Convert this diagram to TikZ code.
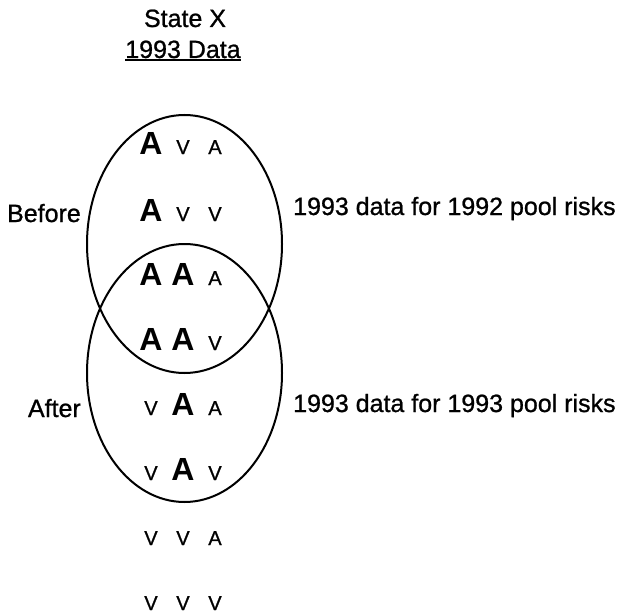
\documentclass[tikz,border=0pt]{standalone}
\usepackage{fontspec}
\setmainfont[FakeBold=0]{Liberation Sans}
\newfontfamily\heavy[FakeBold=0.9]{Liberation Sans}
\usetikzlibrary{shapes.geometric}
\begin{document}
\begin{tikzpicture}[x=1pt,y=-1pt,
  lbl/.style={inner sep=0pt,font=\heavy\fontsize{25}{28}\selectfont},
  big/.style={inner sep=0pt,anchor=base,font=\fontsize{32}{34}\selectfont\bfseries},
  sml/.style={inner sep=0pt,anchor=base,font=\heavy\fontsize{20}{22}\selectfont},
  oval/.style={draw,ellipse,line width=2pt,minimum width=195pt,minimum height=258pt,inner sep=0pt}]
\useasboundingbox (0,0) rectangle (626,615);
% title
\node[lbl,anchor=base] (title) at (185,27) {State X};
\node[lbl,anchor=base] (data) at (183,58) {1993 Data};
\draw[line width=1.5pt] ([yshift=-2pt]data.base west) -- ([yshift=-2pt]data.base east);
% ellipses
\node[oval] (before) at (184.5,244) {};
\node[oval] (after) at (184.5,373) {};
% labels
\node[lbl,anchor=base east] (lb) at (81,222) {Before};
\node[lbl,anchor=base east] (la) at (81,417) {After};
\node[lbl,anchor=base west] (r1) at (293,215) {1993 data for 1992 pool risks};
\node[lbl,anchor=base west] (r2) at (293,412) {1993 data for 1993 pool risks};
% rows
\node[big] (a11) at (151,154) {A}; \node[sml] (a12) at (183,154) {V}; \node[sml] (a13) at (215,154) {A};
\node[big] (a21) at (151,221) {A}; \node[sml] (a22) at (183,221) {V}; \node[sml] (a23) at (215,221) {V};
\node[big] (a31) at (151,285) {A}; \node[big] (a32) at (183,285) {A}; \node[sml] (a33) at (215,285) {A};
\node[big] (a41) at (151,350) {A}; \node[big] (a42) at (183,350) {A}; \node[sml] (a43) at (215,350) {V};
\node[sml] (a51) at (151,415) {V}; \node[big] (a52) at (183,415) {A}; \node[sml] (a53) at (215,415) {A};
\node[sml] (a61) at (151,480) {V}; \node[big] (a62) at (183,480) {A}; \node[sml] (a63) at (215,480) {V};
\node[sml] (a71) at (151,545) {V}; \node[sml] (a72) at (183,545) {V}; \node[sml] (a73) at (215,545) {A};
\node[sml] (a81) at (151,610) {V}; \node[sml] (a82) at (183,610) {V}; \node[sml] (a83) at (215,610) {V};
\end{tikzpicture}
\end{document}
